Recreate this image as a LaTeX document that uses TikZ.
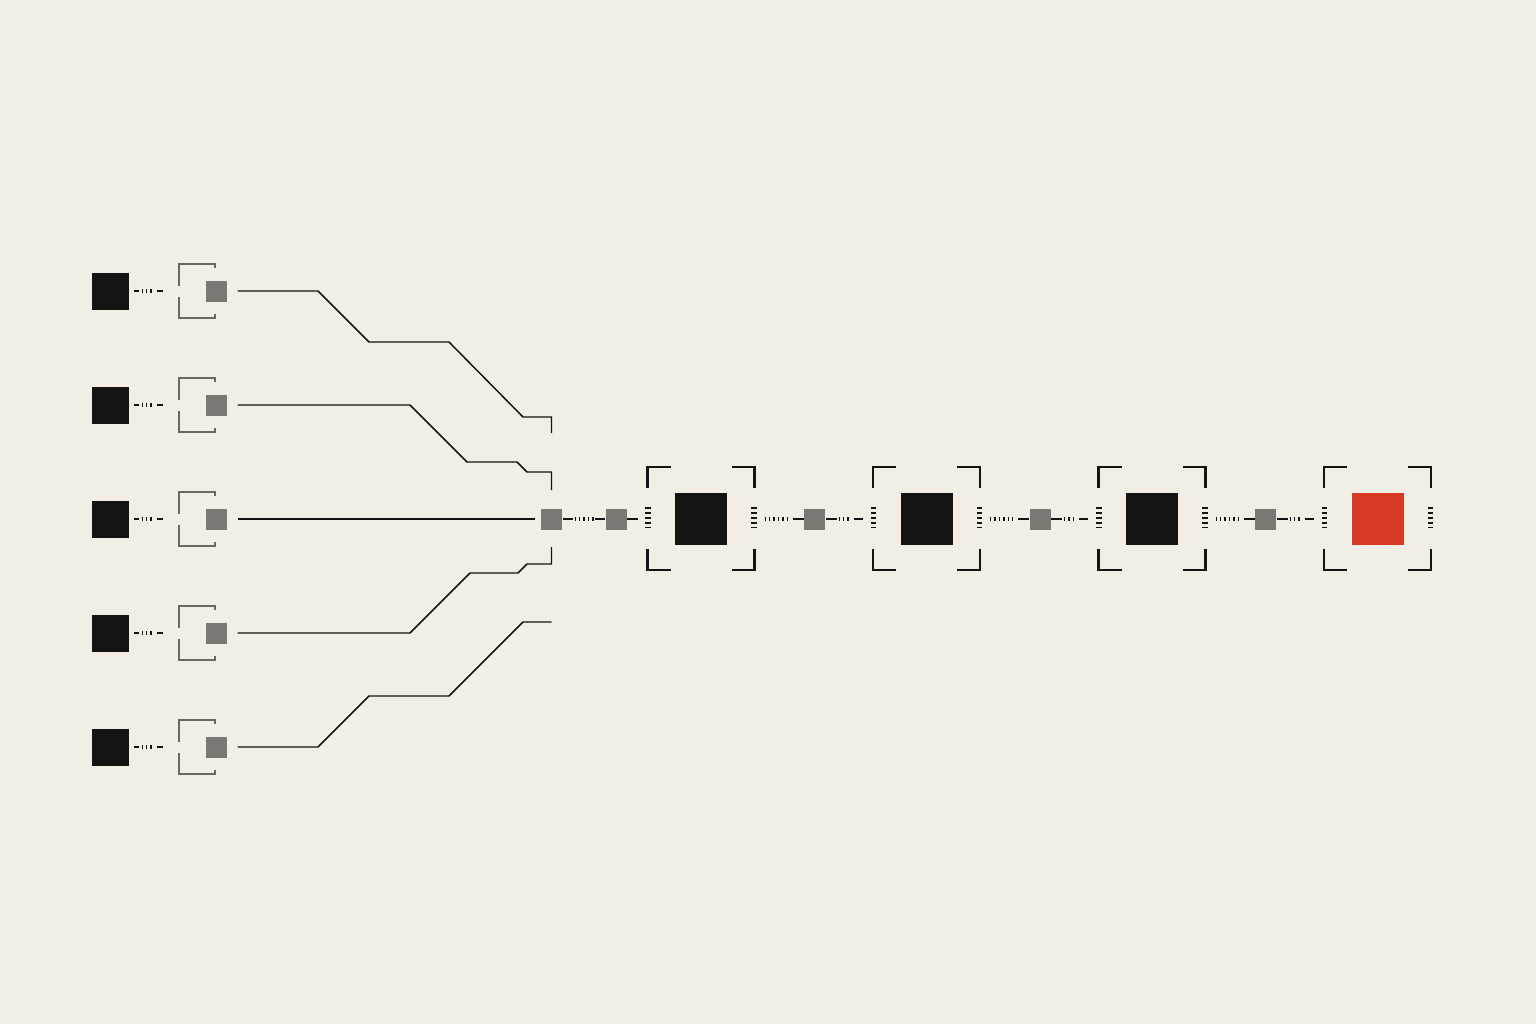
\documentclass[tikz,border=0pt]{standalone}
\usetikzlibrary{calc}

\definecolor{paperc}{HTML}{F2EDE5}
\definecolor{inkc}{HTML}{141414}
\definecolor{hubc}{HTML}{7B7773}
\definecolor{brkc}{HTML}{6A6866}
\definecolor{alertc}{HTML}{D63A24}

\tikzset{every picture/.style={line width=0.75pt}}
\tikzset{
  srcbox/.style={fill=inkc,inner sep=0pt,minimum size=27.75pt},
  gatebox/.style={fill=hubc,inner sep=0pt,minimum size=15.75pt},
  stagebox/.style={fill=inkc,inner sep=0pt,minimum size=39pt},
  wire/.style={draw=inkc,line width=1.1pt},
  tickrun/.style={draw=inkc,line width=2.8pt,dash pattern={on 1.1pt off 2.2pt}},
  tickstack/.style={draw=inkc,line width=3.9pt,dash pattern={on 1.3pt off 2.4pt}},
  gatebrk/.style={draw=brkc,line width=1.1pt},
  stagebrk/.style={draw=inkc,line width=1.8pt}
}

\begin{document}
\begin{tikzpicture}[x=0.75pt,y=0.75pt,yscale=-1,xscale=1]
\useasboundingbox (0,0) rectangle (1536,1024);
\fill[paperc] (0,0) rectangle (1536,1024);

% Sources
\node[srcbox] (src1) at (110,291) {};
\node[srcbox] (src2) at (110,405) {};
\node[srcbox] (src3) at (110,519) {};
\node[srcbox] (src4) at (110,633) {};
\node[srcbox] (src5) at (110,747) {};
% Gates
\node[gatebox] (gate1) at (216.5,291) {};
\node[gatebox] (gate2) at (216.5,405) {};
\node[gatebox] (gate3) at (216.5,519) {};
\node[gatebox] (gate4) at (216.5,633) {};
\node[gatebox] (gate5) at (216.5,747) {};
% Hub and chain
\node[gatebox] (hub) at (551.5,519) {};
\node[gatebox] (pre) at (616,519) {};
\node[stagebox] (stage1) at (701,519) {};
\node[gatebox] (relay1) at (814.5,519) {};
\node[stagebox] (stage2) at (926.5,519) {};
\node[gatebox] (relay2) at (1040,519) {};
\node[stagebox] (stage3) at (1152,519) {};
\node[gatebox] (relay3) at (1265.5,519) {};
\node[stagebox,fill=alertc] (stage4) at (1377.5,519) {};

%Gate brackets
\draw[gatebrk] (215,268) -- (215,264) -- (179,264) -- (179,285.5) (179,296.5) -- (179,318) -- (215,318) -- (215,314) ;
\draw[gatebrk] (215,382) -- (215,378) -- (179,378) -- (179,399.5) (179,410.5) -- (179,432) -- (215,432) -- (215,428) ;
\draw[gatebrk] (215,496) -- (215,492) -- (179,492) -- (179,513.5) (179,524.5) -- (179,546) -- (215,546) -- (215,542) ;
\draw[gatebrk] (215,610) -- (215,606) -- (179,606) -- (179,627.5) (179,638.5) -- (179,660) -- (215,660) -- (215,656) ;
\draw[gatebrk] (215,724) -- (215,720) -- (179,720) -- (179,741.5) (179,752.5) -- (179,774) -- (215,774) -- (215,770) ;

%Source links
\draw[wire] ($(src1.east)+(4.5,0)$) -- ++(5,0) ($(src1.east)+(28,0)$) -- ++(5.5,0) ;
\draw[tickrun] ($(src1.east)+(12.5,0)$) -- ++(13,0) ;
\draw[wire] ($(src2.east)+(4.5,0)$) -- ++(5,0) ($(src2.east)+(28,0)$) -- ++(5.5,0) ;
\draw[tickrun] ($(src2.east)+(12.5,0)$) -- ++(13,0) ;
\draw[wire] ($(src3.east)+(4.5,0)$) -- ++(5,0) ($(src3.east)+(28,0)$) -- ++(5.5,0) ;
\draw[tickrun] ($(src3.east)+(12.5,0)$) -- ++(13,0) ;
\draw[wire] ($(src4.east)+(4.5,0)$) -- ++(5,0) ($(src4.east)+(28,0)$) -- ++(5.5,0) ;
\draw[tickrun] ($(src4.east)+(12.5,0)$) -- ++(13,0) ;
\draw[wire] ($(src5.east)+(4.5,0)$) -- ++(5,0) ($(src5.east)+(28,0)$) -- ++(5.5,0) ;
\draw[tickrun] ($(src5.east)+(12.5,0)$) -- ++(13,0) ;

%Fan-in wires
\draw[wire] ($(gate1.east)+(10,0)$) -- (318,291) -- (369,342) -- (449,342) -- (523,417) -- (551.5,417) -- (551.5,433) ;
\draw[wire] ($(gate2.east)+(10,0)$) -- (410,405) -- (467,462) -- (517,462) -- (527,472) -- (551.5,472) -- (551.5,490) ;
\draw[wire] ($(gate3.east)+(10,0)$) -- ($(hub.west)+(-6,0)$) ;
\draw[wire] ($(gate4.east)+(10,0)$) -- (410,633) -- (470,573) -- (518,573) -- (527,564) -- (551.5,564) -- (551.5,547) ;
\draw[wire] ($(gate5.east)+(10,0)$) -- (318,747) -- (369,696) -- (449,696) -- (523,622) -- (551.5,622) ;

%Hub to stage 1
\draw[wire] (hub.east) -- ++(10,0) ($(pre.west)+(-10,0)$) -- (pre.west) ;
\draw[tickrun] ($(hub.east)+(12,0)$) -- ++(19,0) ;
\draw[wire] (pre.east) -- ++(11,0) ;

%Stage to relay links
\draw[tickrun] ($(relay1.west)+(-39,0)$) -- ++(26,0) ;
\draw[wire] ($(relay1.west)+(-11,0)$) -- (relay1.west) (relay1.east) -- ++(11,0) ($(relay1.east)+(28,0)$) -- ++(9,0) ;
\draw[tickrun] ($(relay1.east)+(13,0)$) -- ++(13,0) ;
\draw[tickrun] ($(relay2.west)+(-39,0)$) -- ++(26,0) ;
\draw[wire] ($(relay2.west)+(-11,0)$) -- (relay2.west) (relay2.east) -- ++(11,0) ($(relay2.east)+(28,0)$) -- ++(9,0) ;
\draw[tickrun] ($(relay2.east)+(13,0)$) -- ++(13,0) ;
\draw[tickrun] ($(relay3.west)+(-39,0)$) -- ++(26,0) ;
\draw[wire] ($(relay3.west)+(-11,0)$) -- (relay3.west) (relay3.east) -- ++(11,0) ($(relay3.east)+(28,0)$) -- ++(9,0) ;
\draw[tickrun] ($(relay3.east)+(13,0)$) -- ++(13,0) ;

%Stage brackets
\draw[stagebrk] (647.5,488) -- (647.5,467) -- (670.5,467) (731.5,467) -- (754.5,467) -- (754.5,488) (754.5,549) -- (754.5,570) -- (731.5,570) (670.5,570) -- (647.5,570) -- (647.5,549) ;
\draw[stagebrk] (873,488) -- (873,467) -- (896,467) (957,467) -- (980,467) -- (980,488) (980,549) -- (980,570) -- (957,570) (896,570) -- (873,570) -- (873,549) ;
\draw[stagebrk] (1098.5,488) -- (1098.5,467) -- (1121.5,467) (1182.5,467) -- (1205.5,467) -- (1205.5,488) (1205.5,549) -- (1205.5,570) -- (1182.5,570) (1121.5,570) -- (1098.5,570) -- (1098.5,549) ;
\draw[stagebrk] (1324,488) -- (1324,467) -- (1347,467) (1408,467) -- (1431,467) -- (1431,488) (1431,549) -- (1431,570) -- (1408,570) (1347,570) -- (1324,570) -- (1324,549) ;

%Tick stacks
\draw[tickstack] (648,507) -- (648,529) (754,507) -- (754,529) ;
\draw[tickstack] (873.5,507) -- (873.5,529) (979.5,507) -- (979.5,529) ;
\draw[tickstack] (1099,507) -- (1099,529) (1205,507) -- (1205,529) ;
\draw[tickstack] (1324.5,507) -- (1324.5,529) (1430.5,507) -- (1430.5,529) ;
\end{tikzpicture}
\end{document}
